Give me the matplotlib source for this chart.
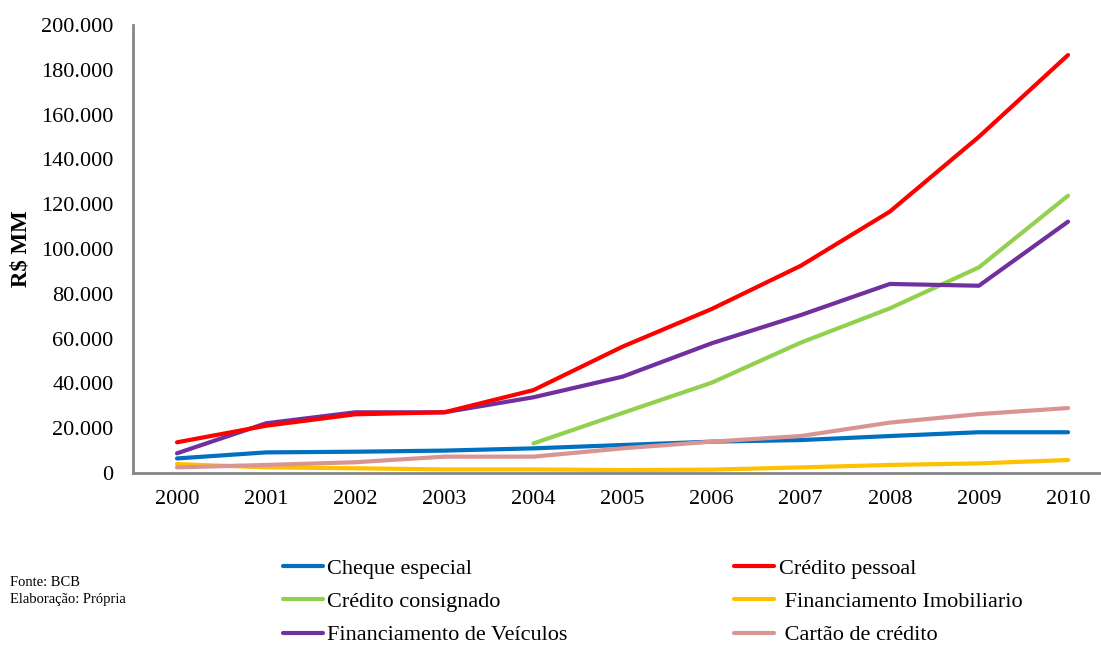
import numpy as np
import matplotlib
matplotlib.use("Agg")
import matplotlib.pyplot as plt
from matplotlib.ticker import FuncFormatter, MultipleLocator

plt.rcParams["font.family"] = ["Liberation Serif", "DejaVu Serif"]

# Dados (R$ milhões)
anos = ["2000", "2001", "2002", "2003", "2004", "2005",
        "2006", "2007", "2008", "2009", "2010"]

cheque_especial = [6500, 9200, 9500, 10000, 11000, 12500, 14000, 14700, 16500, 18200, 18200]
credito_pessoal = [13700, 21100, 26200, 27100, 37000, 56400, 73200, 92500, 116700, 150100, 186600]
credito_consignado = [np.nan, np.nan, np.nan, np.nan, 13200, 26800, 40300, 58200, 73500, 91800, 123800]
financ_imobiliario = [4000, 2500, 2100, 1600, 1600, 1300, 1500, 2500, 3600, 4300, 5800]
financ_veiculos = [8800, 22200, 27100, 27100, 33800, 43000, 57900, 70500, 84400, 83600, 112200]
cartao_credito = [2500, 3600, 4800, 7300, 7300, 11000, 14000, 16500, 22500, 26300, 29000]

series = [
    ("Cheque especial", cheque_especial, "#0070C0"),
    ("Crédito consignado", credito_consignado, "#92D050"),
    ("Financiamento de Veículos", financ_veiculos, "#7030A0"),
    ("Crédito pessoal", credito_pessoal, "#FF0000"),
    (" Financiamento Imobiliario", financ_imobiliario, "#FFC000"),
    (" Cartão de crédito", cartao_credito, "#D99594"),
]

fig = plt.figure(figsize=(11.01, 6.48), dpi=100)
ax = fig.add_axes([133 / 1101, 175 / 648, (1101 - 133) / 1101, 448 / 648])

x = np.arange(len(anos))
for nome, vals, cor in series:
    ax.plot(x, vals, color=cor, lw=3, label=nome, solid_capstyle="round")

ax.set_xlim(-0.494, 10.37)
ax.set_ylim(0, 200000)
ax.set_xticks(x)
ax.set_xticklabels(anos)
ax.yaxis.set_major_locator(MultipleLocator(20000))
ax.yaxis.set_major_formatter(FuncFormatter(lambda v, p: f"{int(v):,}".replace(",", ".")))
ax.tick_params(axis="both", length=0, labelsize=16)
ax.tick_params(axis="y", pad=14)
ax.tick_params(axis="x", pad=12)

for lado in ["top", "right"]:
    ax.spines[lado].set_visible(False)
for lado in ["left", "bottom"]:
    ax.spines[lado].set_color("#868686")
    ax.spines[lado].set_linewidth(2)

fig.text(21 / 1101, 1 - 249 / 648, "R$ MM", rotation=90, fontsize=16.5,
         fontweight="bold", ha="center", va="center")

fig.legend(loc="upper left", bbox_to_anchor=(283 / 1101, 1 - 558 / 648),
           ncol=2, frameon=False, fontsize=16, handlelength=1.8,
           handletextpad=0.2, columnspacing=7.5, labelspacing=0.58,
           borderpad=0, borderaxespad=0)

fig.text(10 / 1101, 1 - 582 / 648, "Fonte: BCB", fontsize=10.5, va="center")
fig.text(10 / 1101, 1 - 599 / 648, "Elaboração: Própria", fontsize=10.5, va="center")

fig.savefig("out.png", dpi=100)
